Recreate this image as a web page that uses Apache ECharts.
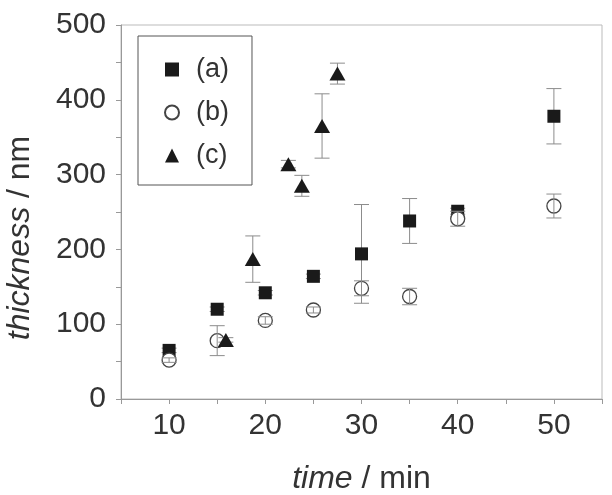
<!DOCTYPE html>
<html>
<head>
<meta charset="utf-8">
<script src="https://cdn.jsdelivr.net/npm/echarts@6/dist/echarts.min.js"></script>
<style>
html,body{margin:0;padding:0;background:#fff;}
#chart{width:612px;height:495px;}
</style>
</head>
<body>
<div id="chart"></div>
<script>
// Series (a) squares
const timeA = [10, 15, 20, 25, 30, 35, 40, 50];
const thickA = [65, 120, 142, 164, 194, 238, 251, 378];
const errA = [3, 3, 3, 3, 66, 30, 4, 37];
// Series (b) open circles
const timeB = [10, 15, 20, 25, 30, 35, 40, 50];
const thickB = [52, 78, 105, 119, 148, 137, 241, 258];
const errB = [3, 20, 5, 4, 10, 11, 10, 16];
// Series (c) triangles
const timeC = [15.9, 18.7, 22.4, 23.8, 25.9, 27.5];
const thickC = [79, 187, 314, 285, 365, 435];
const errC = [3, 31, 5, 14, 43, 14];

const legendNames = ['(a)', '(b)', '(c)'];
const xTitle = 'time';
const xUnit = ' / min';
const yTitle = 'thickness';
const yUnit = ' / nm';

const FONT = '"Liberation Sans", Arial, Helvetica, sans-serif';
const TXT = '#333';
const AX = '#999';

function pts(xs, ys) { return xs.map((x, i) => [x, ys[i]]); }
function errs(xs, ys, es) { return xs.map((x, i) => [x, ys[i] - es[i], ys[i] + es[i]]); }

function errRender(params, api) {
  const x = api.value(0), lo = api.value(1), hi = api.value(2);
  const pLo = api.coord([x, lo]), pHi = api.coord([x, hi]);
  const hw = 7.5;
  const style = { stroke: '#8c8c8c', lineWidth: 1, fill: null };
  return {
    type: 'group',
    children: [
      { type: 'line', shape: { x1: pLo[0], y1: pLo[1], x2: pHi[0], y2: pHi[1] }, style: style },
      { type: 'line', shape: { x1: pLo[0] - hw, y1: pLo[1], x2: pLo[0] + hw, y2: pLo[1] }, style: style },
      { type: 'line', shape: { x1: pHi[0] - hw, y1: pHi[1], x2: pHi[0] + hw, y2: pHi[1] }, style: style }
    ]
  };
}

const chart = echarts.init(document.getElementById('chart'), null, { renderer: 'canvas' });
chart.setOption({
  animation: false,
  backgroundColor: '#fff',
  textStyle: { fontFamily: FONT },
  grid: { left: 121, top: 25, right: 10, bottom: 96, show: true, borderColor: '#bbb', borderWidth: 1,
          containLabel: false, outerBoundsMode: 'none' },
  legend: {
    data: legendNames,
    orient: 'vertical',
    left: 138, top: 36,
    padding: [20, 23, 16, 26],
    itemWidth: 14, itemHeight: 14,
    itemGap: 16,
    borderColor: '#555', borderWidth: 1,
    textStyle: { fontSize: 27, color: TXT, fontFamily: FONT, padding: [0, 0, 0, 12] }
  },
  xAxis: {
    type: 'value', min: 5, max: 55, interval: 5,
    name: '{i|' + xTitle + '}' + xUnit,
    nameLocation: 'middle', nameGap: 64,
    nameTextStyle: { fontSize: 32, color: TXT, fontFamily: FONT, rich: { i: { fontSize: 32, fontStyle: 'italic', color: TXT, fontFamily: FONT } } },
    axisLine: { show: true, lineStyle: { color: AX, width: 1 } },
    axisTick: { show: true, inside: false, length: 5, lineStyle: { color: AX } },
    axisLabel: { fontSize: 30, color: TXT, margin: 12, formatter: v => (v % 10 === 0 ? String(v) : '') },
    splitLine: { show: false }
  },
  yAxis: {
    type: 'value', min: 0, max: 500, interval: 50,
    name: '{i|' + yTitle + '}' + yUnit,
    nameLocation: 'middle', nameGap: 85,
    nameTextStyle: { fontSize: 32, color: TXT, fontFamily: FONT, padding: [0, 52, 0, 0], rich: { i: { fontSize: 32, fontStyle: 'italic', color: TXT, fontFamily: FONT } } },
    axisLine: { show: true, lineStyle: { color: AX, width: 1 } },
    axisTick: { show: true, inside: false, length: 5, lineStyle: { color: AX } },
    axisLabel: { fontSize: 30, color: TXT, margin: 15, formatter: v => (v % 100 === 0 ? String(v) : '') },
    splitLine: { show: false }
  },
  series: [
    { type: 'custom', name: 'errA', z: 1, renderItem: errRender, encode: { x: 0, y: [1, 2] }, data: errs(timeA, thickA, errA), silent: true },
    { type: 'scatter', name: legendNames[0], z: 2, symbol: 'rect', symbolSize: 13, data: pts(timeA, thickA),
      itemStyle: { color: '#1a1a1a', opacity: 1 } },
    { type: 'scatter', name: legendNames[1], z: 3, symbol: 'circle', symbolSize: 14, data: pts(timeB, thickB),
      itemStyle: { color: '#fff', borderColor: '#444', borderWidth: 1.3, opacity: 1 } },
    { type: 'custom', name: 'errB', z: 4, renderItem: errRender, encode: { x: 0, y: [1, 2] }, data: errs(timeB, thickB, errB), silent: true },
    { type: 'custom', name: 'errC', z: 5, renderItem: errRender, encode: { x: 0, y: [1, 2] }, data: errs(timeC, thickC, errC), silent: true },
    { type: 'scatter', name: legendNames[2], z: 6, symbol: 'triangle', symbolSize: [16, 14], data: pts(timeC, thickC),
      itemStyle: { color: '#1a1a1a', opacity: 1 } }
  ]
});
</script>
</body>
</html>
